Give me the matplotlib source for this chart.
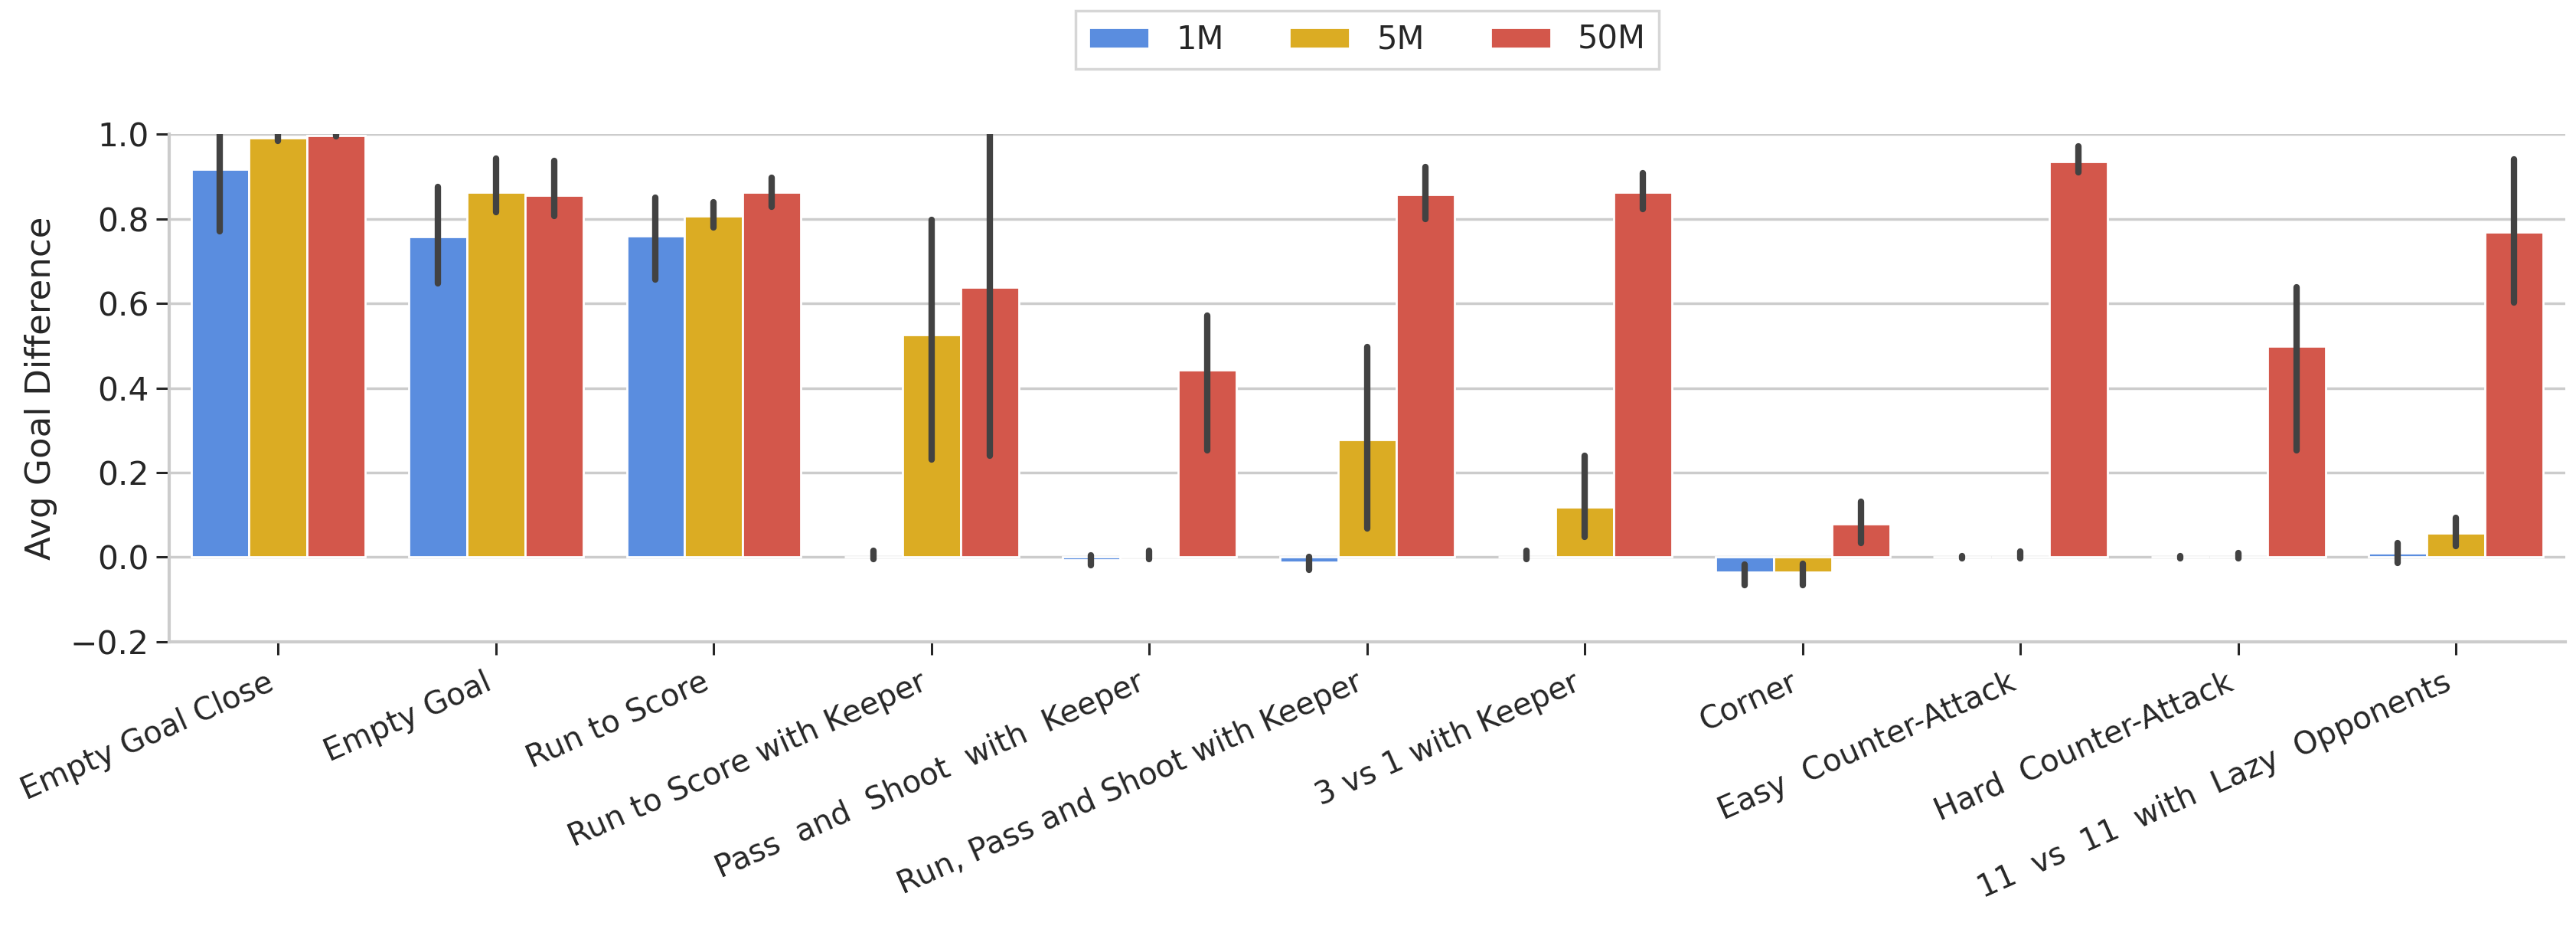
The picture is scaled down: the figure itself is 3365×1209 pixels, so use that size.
import numpy as np
import matplotlib
matplotlib.use("Agg")
import matplotlib.pyplot as plt

# scenario names as on the chart (double spaces kept as in the figure)
scenarios = ["Empty Goal Close", "Empty Goal", "Run to Score", "Run to Score with Keeper",
             "Pass  and  Shoot  with  Keeper", "Run, Pass and Shoot with Keeper",
             "3 vs 1 with Keeper", "Corner", "Easy  Counter-Attack",
             "Hard  Counter-Attack", "11  vs  11  with  Lazy  Opponents"]
steps = ["1M", "5M", "50M"]

# mean goal difference per training budget
mean_1m = [0.918, 0.758, 0.759, 0.0, -0.007, -0.012, 0.0, -0.036, 0.0, 0.0, 0.01]
mean_5m = [0.992, 0.862, 0.806, 0.526, 0.005, 0.278, 0.119, -0.036, 0.0, 0.0, 0.056]
mean_50m = [0.997, 0.856, 0.862, 0.638, 0.443, 0.857, 0.862, 0.079, 0.935, 0.499, 0.769]

# confidence interval ends (low, high)
lo_1m = [0.77, 0.647, 0.657, -0.005, -0.02, -0.03, -0.005, -0.066, -0.002, -0.002, -0.014]
hi_1m = [1.05, 0.875, 0.85, 0.015, 0.004, 0.0, 0.015, -0.017, 0.002, 0.002, 0.033]
lo_5m = [0.985, 0.816, 0.78, 0.231, -0.005, 0.068, 0.048, -0.066, -0.003, -0.003, 0.027]
hi_5m = [1.0, 0.943, 0.839, 0.797, 0.015, 0.497, 0.239, -0.015, 0.013, 0.01, 0.094]
lo_50m = [0.995, 0.806, 0.829, 0.24, 0.253, 0.8, 0.823, 0.033, 0.91, 0.253, 0.602]
hi_50m = [1.0, 0.937, 0.898, 1.05, 0.572, 0.922, 0.908, 0.131, 0.972, 0.638, 0.94]

colors = ["#5a8ddf", "#dbac23", "#d3574b"]
means = [mean_1m, mean_5m, mean_50m]
lows = [lo_1m, lo_5m, lo_50m]
highs = [hi_1m, hi_5m, hi_50m]

fig = plt.figure(figsize=(33.65, 12.09), dpi=100)
ax = fig.add_axes([0.0657, 0.307, 0.930, 0.548])

x = np.arange(len(scenarios))
w = 0.8 / 3
for i in range(3):
    pos = x - 0.8 / 2 + w * (i + 0.5)
    ax.bar(pos, means[i], width=w, color=colors[i], edgecolor="white",
           linewidth=2.0, label=steps[i], zorder=2)
    ax.vlines(pos, lows[i], highs[i], color="#424242", linewidth=6,
              capstyle="round", zorder=3)

ax.set_xlim(-0.5, len(scenarios) - 0.5)
ax.set_ylim(-0.2, 1.0)
ax.set_yticks([-0.2, 0.0, 0.2, 0.4, 0.6, 0.8, 1.0])
ax.set_yticklabels(["\u22120.2", "0.0", "0.2", "0.4", "0.6", "0.8", "1.0"])
ax.set_xticks(x)
ax.set_xticklabels(scenarios, rotation=24, ha="right")
ax.set_ylabel("Avg Goal Difference", fontsize=32.5, color="#262626", labelpad=12)

ax.yaxis.grid(True, color="#cccccc", linewidth=2.5, zorder=0)
ax.set_axisbelow(True)
for s in ["top", "right"]:
    ax.spines[s].set_visible(False)
for s in ["left", "bottom"]:
    ax.spines[s].set_color("#cccccc")
    ax.spines[s].set_linewidth(3.0)
ax.tick_params(axis="both", colors="#262626", length=12, width=2.2, pad=7)
ax.tick_params(axis="y", labelsize=30.5)
ax.tick_params(axis="x", labelsize=29, pad=12)

leg = ax.legend(loc="upper center", bbox_to_anchor=(0.5, 1.243), borderaxespad=0,
                ncol=3, fontsize=30, frameon=True, fancybox=False, edgecolor="#cccccc",
                handlelength=1.9, handleheight=0.62, handletextpad=0.85,
                columnspacing=2.05, borderpad=0.4)
leg.get_frame().set_linewidth(2.5)
for t in leg.get_texts():
    t.set_color("#262626")

fig.savefig("out.png", dpi=100)
